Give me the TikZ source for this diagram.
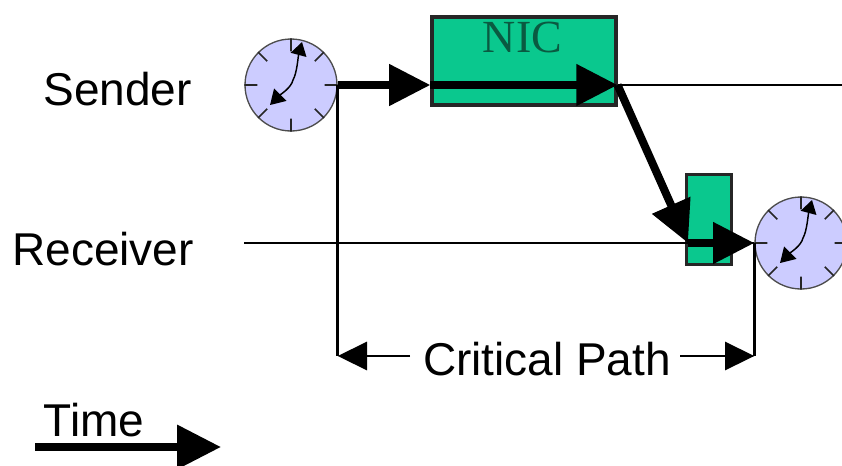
\documentclass[tikz,border=0pt]{standalone}
\usepackage{fontspec}
\setmainfont{Liberation Sans}
\newfontfamily\nicfont{Liberation Serif}
\usetikzlibrary{arrows.meta,calc}

\definecolor{nicgreen}{RGB}{10,200,142}
\definecolor{clockblue}{RGB}{204,204,255}
\definecolor{nictext}{RGB}{10,90,65}

\tikzset{
  lbl/.style={anchor=base, inner sep=0pt, font=\fontsize{34.5}{40}\selectfont},
  clockface/.style={circle, draw=black!70, line width=1pt, fill=clockblue, minimum size=69pt, inner sep=0pt},
  nicbox/.style={draw=black!85, line width=2.4pt, fill=nicgreen, inner sep=0pt},
  bigarrow/.style={line width=6pt, -{Triangle[length=31pt,width=30pt]}},
  thinline/.style={line width=1.1pt},
  dimline/.style={line width=2.2pt},
  dimarrow/.style={line width=2.2pt, -{Triangle[length=22pt,width=21pt]}},
}

% ticks and hands of one clock
\newcommand{\clockdetail}[1]{
  \foreach \a in {0,45,...,315}
    \draw[line width=1.3pt, black!85] (#1.\a) -- ($(#1.center)!0.72!(#1.\a)$);
  \begin{scope}[shift={(#1.center)}]
    \draw[line width=1.1pt, -{Triangle[length=10pt,width=12pt]}] (2,-5)
      .. controls (6,-12) and (7,-28) .. (11,-43);
    \draw[line width=1.1pt, -{Triangle[length=11pt,width=13pt]}] (2,-5)
      .. controls (0,3) and (-10,9) .. (-21,20);
  \end{scope}
}

\begin{document}
\begin{tikzpicture}[x=0.75pt,y=-0.75pt]
  \useasboundingbox (0,0) rectangle (842,465);

  % Labels
  \node[lbl] (sender) at (117.5,105) {Sender};
  \node[lbl] (receiver) at (103,265) {Receiver};

  % Clocks
  \node[clockface] (sendclock) at (291,85) {};
  \node[clockface] (recvclock) at (801,243) {};
  \clockdetail{sendclock}
  \clockdetail{recvclock}

  % NIC boxes
  \node[nicbox, minimum width=138pt, minimum height=66pt] (nic) at (524,61) {};
  \node[nicbox, minimum width=34pt, minimum height=67pt] (recvnic) at (709,219.5) {};
  \node[lbl, text=nictext, font=\nicfont\fontsize{34.5}{40}\selectfont] (nictext) at (522.5,52) {NIC};

  % Points on the boxes and the free ends
  \coordinate (nicin) at (nic.west |- sendclock.east);
  \coordinate (nicout) at (nic.east |- sendclock.east);
  \coordinate (sendend) at (842,85);
  \coordinate (recvstart) at (244,243);
  \coordinate (recvin) at (688,243);
  \coordinate (critleft) at (sendclock.east |- 0,356);
  \coordinate (critright) at (recvclock.west |- 0,356);
  \coordinate (timestart) at (35,447);
  \coordinate (timeend) at (221,447);

  % Time lines
  \draw[thinline] (nicout) -- (sendend);
  \draw[thinline] (recvstart) -- (recvclock.west);

  % Message path
  \draw[bigarrow] (sendclock.east) -- (nicin);
  \draw[bigarrow] (nicin) -- (nicout);
  \draw[bigarrow] (nicout) -- (recvin);
  \draw[bigarrow] (recvin) -- (recvclock.west);

  % Critical path
  \draw[dimline] (sendclock.east) -- (critleft);
  \draw[dimline] (recvclock.west) -- (critright);
  \node[lbl] (critical) at (547,375) {Critical Path};
  \draw[dimarrow] (410,356) -- (critleft);
  \draw[dimarrow] (680,356) -- (critright);

  % Time arrow
  \node[lbl] (time) at (94,436) {Time};
  \draw[bigarrow, -{Triangle[length=33pt,width=32pt]}] (timestart) -- (timeend);
\end{tikzpicture}
\end{document}
